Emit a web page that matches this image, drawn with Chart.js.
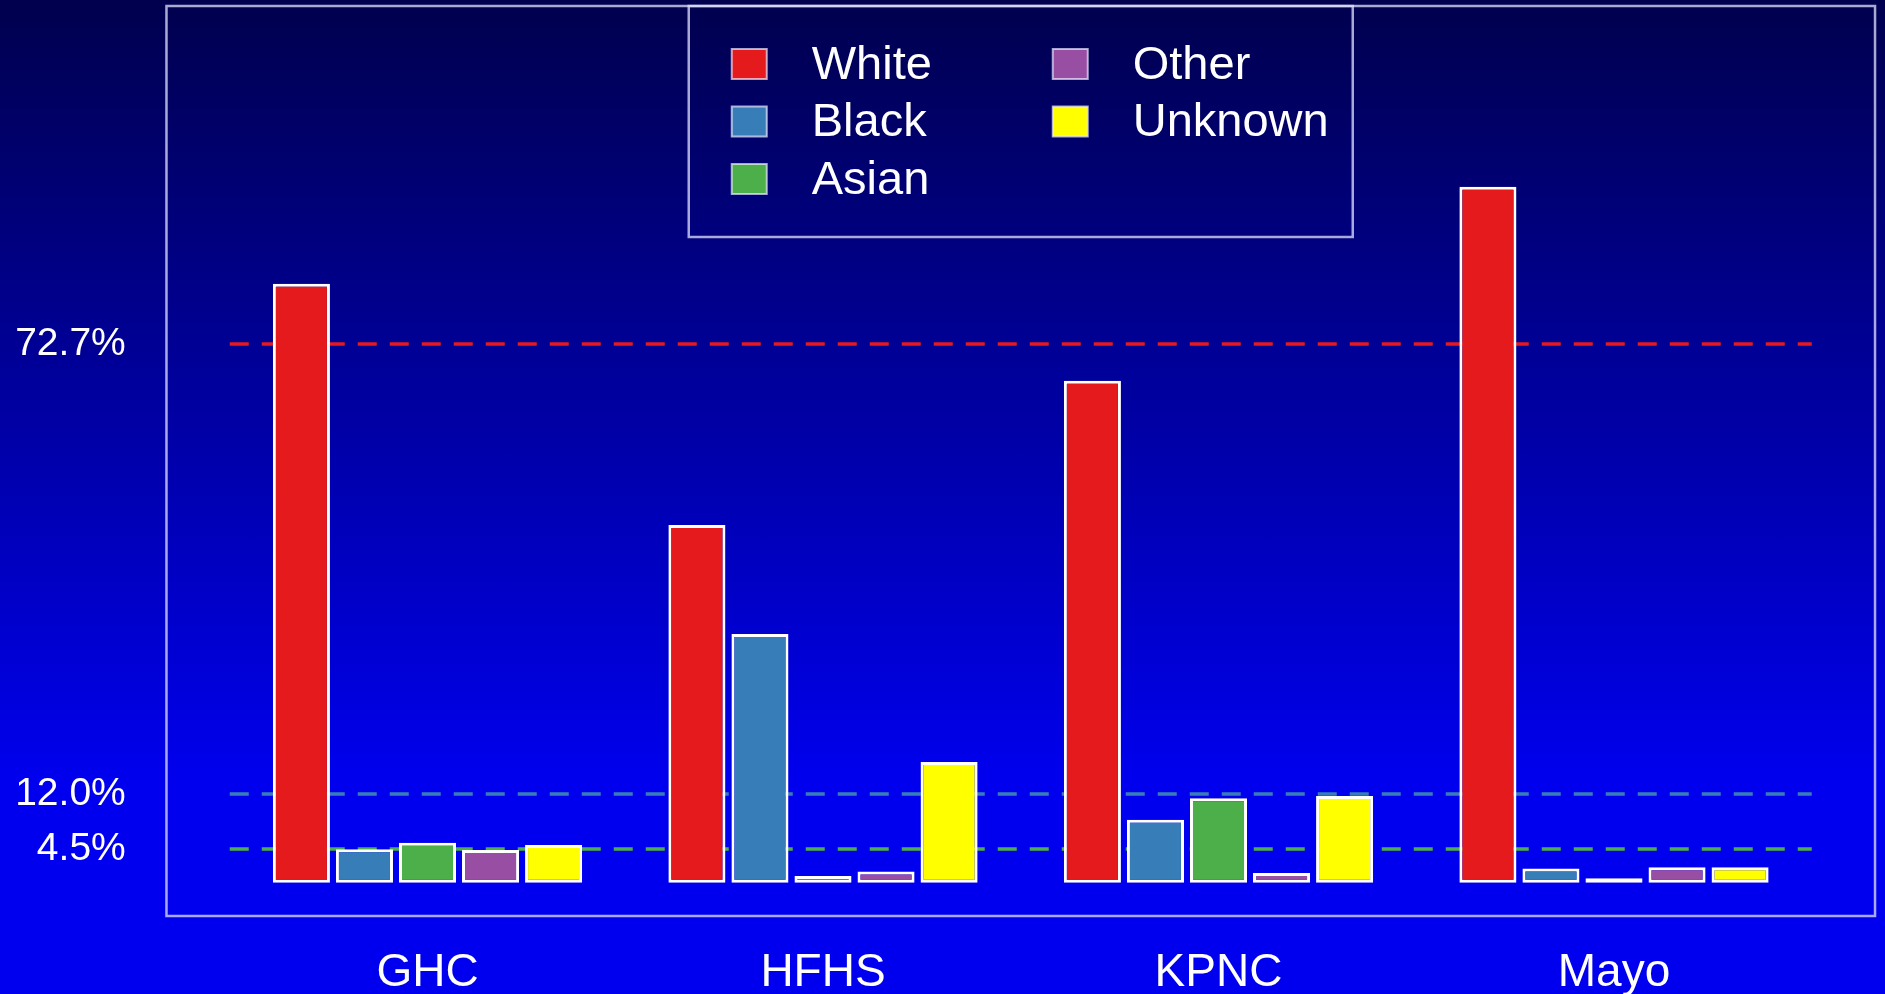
<!DOCTYPE html>
<html>
<head>
<meta charset="utf-8">
<title>Race by site</title>
<script src="https://cdn.jsdelivr.net/npm/chart.js@4/dist/chart.umd.min.js"></script>
<style>
  html, body { margin: 0; padding: 0; }
  body {
    width: 1885px; height: 994px; overflow: hidden;
    background: linear-gradient(to bottom, #00004e 0px, #0000ee 780px, #0000ee 994px);
  }
  #wrap { position: relative; width: 1885px; height: 994px; }
</style>
</head>
<body>
<div id="wrap"><canvas id="chart"></canvas></div>
<script>
// data (percent of patients)
const sites = ['GHC', 'HFHS', 'KPNC', 'Mayo'];
const white   = [80.9, 48.3, 67.8, 94.0];
const black   = [4.5, 33.6, 8.5, 1.9];
const asian   = [5.4, 0.9, 11.4, 0.6];
const other   = [4.4, 1.5, 1.3, 2.1];
const unknown = [5.1, 16.3, 11.7, 2.1];

// reference lines (overall rates), also used as the y tick labels
const refValues = [72.7, 12.0, 4.5];

const FONT = "'Liberation Sans', Arial, sans-serif";
const colors = ['#e41a1c', '#377eb8', '#4daf4a', '#984ea3', '#ffff00'];
const refColors = ['#e41a1c', '#377eb8', '#4daf4a'];

function bars(label, data, color) {
  return {
    label: label,
    data: data,
    backgroundColor: color,
    borderColor: '#ffffff',
    borderWidth: 3,
    borderSkipped: false,
    categoryPercentage: 0.797,
    barPercentage: 0.905
  };
}

// dashed reference lines, plot frame and the boxed legend
const extras = {
  id: 'extras',
  beforeDatasetsDraw(chart) {
    const ctx = chart.ctx, a = chart.chartArea, y = chart.scales.y;
    ctx.save();
    ctx.lineWidth = 3.5;
    ctx.setLineDash([19, 13]);
    refValues.forEach((v, i) => {
      const py = Math.round(y.getPixelForValue(v));
      ctx.strokeStyle = refColors[i];
      ctx.beginPath();
      ctx.moveTo(a.left, py);
      ctx.lineTo(a.right, py);
      ctx.stroke();
    });
    ctx.restore();
  },
  afterDraw(chart) {
    const ctx = chart.ctx, a = chart.chartArea;
    const ext = (a.right - a.left) * 0.04;
    const boxL = a.left - ext, boxR = a.right + ext;
    ctx.save();
    ctx.strokeStyle = 'rgba(225,225,255,0.75)';
    ctx.lineWidth = 2.5;
    ctx.strokeRect(boxL, a.top, boxR - boxL, a.bottom - a.top);

    // legend, two columns filled top-down
    const lw = 664, lh = 231;
    const lx = (boxL + boxR) / 2 - lw / 2, ly = a.top;
    ctx.strokeRect(lx, ly, lw, lh);
    ctx.font = '47px ' + FONT;
    ctx.textBaseline = 'middle';
    ctx.textAlign = 'left';
    chart.data.datasets.forEach((ds, i) => {
      const col = Math.floor(i / 3), row = i % 3;
      const cy = ly + 58 + row * 57.5;
      const sx = lx + 43 + col * 321;
      ctx.fillStyle = ds.backgroundColor;
      ctx.fillRect(sx, cy - 15, 35, 30);
      ctx.lineWidth = 2;
      ctx.strokeStyle = 'rgba(235,235,255,0.7)';
      ctx.strokeRect(sx, cy - 15, 35, 30);
      ctx.fillStyle = '#ffffff';
      ctx.fillText(ds.label, sx + 80, cy + 2);
    });
    ctx.restore();
  }
};

new Chart(document.getElementById('chart'), {
  type: 'bar',
  data: {
    labels: sites,
    datasets: [
      bars('White', white, colors[0]),
      bars('Black', black, colors[1]),
      bars('Asian', asian, colors[2]),
      bars('Other', other, colors[3]),
      bars('Unknown', unknown, colors[4])
    ]
  },
  options: {
    responsive: true,
    maintainAspectRatio: false,
    animation: false,
    layout: { padding: { top: 6, right: 73.25, left: 0, bottom: 0 } },
    plugins: {
      legend: { display: false },
      tooltip: { enabled: false }
    },
    scales: {
      x: {
        grid: { display: false },
        border: { display: false },
        ticks: {
          color: '#ffffff',
          font: { family: FONT, size: 46 },
          padding: 22,
          maxRotation: 0
        },
        afterFit(scale) {
          scale.height = 78;
          scale.paddingLeft = 0;
          scale.paddingRight = 0;
        }
      },
      y: {
        min: -4.5,
        max: 118.4,
        grid: { display: false, drawTicks: false },
        border: { display: false },
        afterBuildTicks(scale) {
          scale.ticks = refValues.map(v => ({ value: v }));
        },
        ticks: {
          autoSkip: false,
          color: '#ffffff',
          font: { family: FONT, size: 39 },
          padding: 104,
          callback: v => v.toFixed(1) + '%'
        },
        afterFit(scale) {
          scale.width = 229.75;
          scale.paddingTop = 0;
          scale.paddingBottom = 0;
        }
      }
    }
  },
  plugins: [extras]
});
</script>
</body>
</html>
